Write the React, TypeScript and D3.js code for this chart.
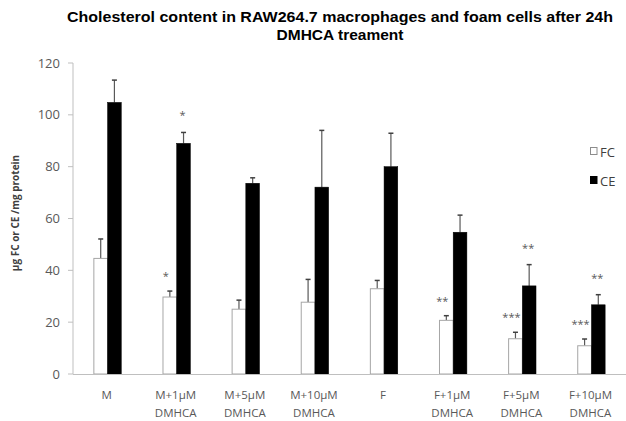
import React from "react";
import * as d3 from "d3";

const categories = [
  ["M"],
  ["M+1µM", "DMHCA"],
  ["M+5µM", "DMHCA"],
  ["M+10µM", "DMHCA"],
  ["F"],
  ["F+1µM", "DMHCA"],
  ["F+5µM", "DMHCA"],
  ["F+10µM", "DMHCA"],
];
const fcValues = [44.6, 29.7, 25.0, 27.7, 32.9, 20.7, 13.6, 10.9];
const fcErrors = [7.5, 2.3, 3.5, 8.8, 3.2, 1.8, 2.5, 2.6];
const ceValues = [104.8, 89.0, 73.6, 72.1, 80.0, 54.7, 34.0, 26.7];
const ceErrors = [8.6, 4.2, 2.1, 21.9, 12.9, 6.6, 8.2, 3.9];
const fcStars = ["", "*", "", "", "", "**", "***", "***"];
const ceStars = ["", "*", "", "", "", "", "**", "**"];
const yTicks = [0, 20, 40, 60, 80, 100, 120];
const titleLines = [
  "Cholesterol content in RAW264.7 macrophages and foam cells after 24h",
  "DMHCA treament",
];
const yAxisTitle = "µg FC or CE /mg protein";
const legendItems = [
  { label: "FC", fill: "#ffffff" },
  { label: "CE", fill: "#000000" },
];

const W = 626;
const H = 421;
const left = 73;
const right = 626;
const top = 63;
const bottom = 374;

export default function App() {
  const idx = categories.map((_, i) => i);
  const x = d3.scaleBand<number>().domain(idx).range([left, right]).paddingInner(0).paddingOuter(0);
  const y = d3.scaleLinear().domain([0, 120]).range([bottom, top]);
  const bw = 13.7;
  const grey = "#595959";
  const font = "Open Sans, Lato, sans-serif";

  return (
    <svg width={W} height={H} style={{ position: "absolute", left: 0, top: 0, background: "#fff" }}>
      <rect x={0} y={0} width={W} height={H} fill="#fff" />
      <text x={340} y={22} textAnchor="middle" fontFamily="Liberation Sans, Arial, sans-serif" fontWeight="bold" fontSize={15.5} fill="#000" textLength={546} lengthAdjust="spacingAndGlyphs">
        {titleLines[0]}
      </text>
      <text x={340} y={40} textAnchor="middle" fontFamily="Liberation Sans, Arial, sans-serif" fontWeight="bold" fontSize={15.5} fill="#000">
        {titleLines[1]}
      </text>
      {/* y axis */}
      <line x1={left} x2={left} y1={top} y2={bottom} stroke="#bfbfbf" />
      {yTicks.map((t) => (
        <g key={t}>
          <line x1={left - 5} x2={left} y1={y(t)} y2={y(t)} stroke="#bfbfbf" />
          <text x={left - 13} y={y(t) + 4.5} textAnchor="end" fontFamily={font} fontSize={13} fill={grey}>
            {t}
          </text>
        </g>
      ))}
      <text transform={`translate(19,213) rotate(-90)`} textAnchor="middle" fontFamily={font} fontWeight="bold" fontSize={10} fill="#404040">
        {yAxisTitle}
      </text>
      {/* bars */}
      {idx.map((i) => {
        const c = x(i)! + x.bandwidth() / 2;
        const fx = c - bw;
        const cx = c;
        const fTop = y(fcValues[i]);
        const fErr = y(fcValues[i] + fcErrors[i]);
        const cTop = y(ceValues[i]);
        const cErr = y(ceValues[i] + ceErrors[i]);
        return (
          <g key={i}>
            <line x1={fx + bw / 2} x2={fx + bw / 2} y1={fTop} y2={fErr} stroke="#595959" strokeWidth={1.2} />
            <line x1={fx + bw / 2 - 2.5} x2={fx + bw / 2 + 2.5} y1={fErr} y2={fErr} stroke="#404040" strokeWidth={1.5} />
            <rect x={fx} y={fTop} width={bw} height={bottom - fTop} fill="#fff" stroke="#a6a6a6" strokeWidth={1} />
            <line x1={cx + bw / 2} x2={cx + bw / 2} y1={cTop} y2={cErr} stroke="#595959" strokeWidth={1.2} />
            <line x1={cx + bw / 2 - 2.5} x2={cx + bw / 2 + 2.5} y1={cErr} y2={cErr} stroke="#404040" strokeWidth={1.5} />
            <rect x={cx} y={cTop} width={bw} height={bottom - cTop} fill="#000" stroke="#000" strokeWidth={0.5} />
            {fcStars[i] && (
              <text x={fx + bw / 2 - 4} y={fErr - 11} textAnchor="middle" fontFamily={font} fontSize={11} fill="#595959">
                {fcStars[i]}
              </text>
            )}
            {ceStars[i] && (
              <text x={cx + bw / 2 - 1} y={cErr - 13} textAnchor="middle" fontFamily={font} fontSize={11} fill="#595959">
                {ceStars[i]}
              </text>
            )}
            {categories[i].map((l, j) => (
              <text key={j} x={c - 1} y={399 + j * 17.5} textAnchor="middle" fontFamily={font} fontSize={11.5} fill={grey}>
                {l}
              </text>
            ))}
          </g>
        );
      })}
      {/* x axis */}
      <line x1={left} x2={right} y1={bottom + 0.5} y2={bottom + 0.5} stroke="#bfbfbf" />
      {/* legend */}
      {legendItems.map((it, i) => (
        <g key={it.label}>
          <rect x={590.5} y={147.5 + i * 29} width={6.5} height={7} fill={it.fill} stroke={i === 0 ? "#8c8c8c" : "#000"} strokeWidth={1} />
          <text x={600} y={156.5 + i * 29} fontFamily={font} fontSize={13} fill="#404040">
            {it.label}
          </text>
        </g>
      ))}
    </svg>
  );
}
